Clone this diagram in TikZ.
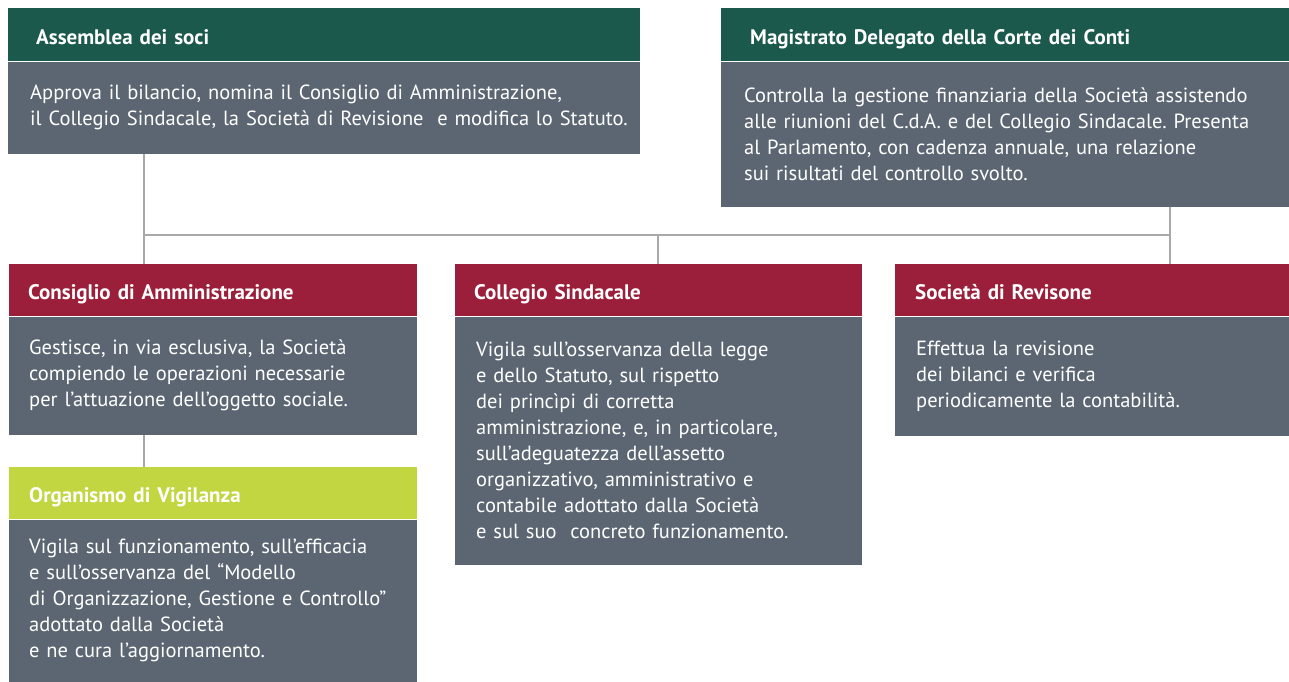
\documentclass[tikz,border=0pt]{standalone}
\usepackage{fontspec}
\setmainfont{PT Sans}
\usepackage{tikz}
\usetikzlibrary{positioning}
\definecolor{darkgreen}{HTML}{1A594C}
\definecolor{wine}{HTML}{9B1F3A}
\definecolor{lime}{HTML}{C1D641}
\definecolor{slate}{HTML}{5B6672}
\definecolor{linegrey}{HTML}{A8A8A8}
\newcommand{\headfont}{\fontsize{21}{24}\selectfont\bfseries}
\newcommand{\bodyfont}{\fontsize{20.5}{26}\selectfont\frenchspacing}

\begin{document}
\begin{tikzpicture}[x=1pt,y=1pt,
  head/.style={fill=#1, text=white, font=\headfont, inner ysep=0pt,
    text height=22pt, text depth=3pt,
    minimum height=53pt, align=left, anchor=north west},
  body/.style={fill=slate, text=white, font=\bodyfont, inner ysep=0pt, align=left},
  link/.style={draw=linegrey, line width=1.5pt}]
  \useasboundingbox (0,0) rectangle (1289,-681);
  % top row
  \node[head=darkgreen, inner xsep=28pt, text width=576pt] (assemblea) at (8,-8) {Assemblea dei soci};
  \node[body, below=0pt of assemblea, inner xsep=22pt, text width=588pt, minimum height=92pt] (assemblea-txt)
    {Approva il bilancio, nomina il Consiglio di Amministrazione,\\
     \mbox{il Collegio Sindacale, la Società di Revisione~ e modifica lo Statuto.}};
  \node[head=darkgreen, inner xsep=29pt, text width=510pt] (magistrato) at (721,-8) {Magistrato Delegato della Corte dei Conti};
  \node[body, below=0pt of magistrato, inner xsep=23pt, text width=522pt, minimum height=145pt] (magistrato-txt)
    {Controlla la gestione finanziaria della Società assistendo\\
     alle riunioni del C.d.A. e del Collegio Sindacale. Presenta\\
     al Parlamento, con cadenza annuale, una relazione\\
     sui risultati del controllo svolto.};
  % middle row
  \node[head=wine, inner xsep=19pt, text width=370pt, minimum height=52pt] (consiglio) at (9,-264) {Consiglio di Amministrazione};
  \node[body, below=0pt of consiglio, inner xsep=20pt, text width=368pt, minimum height=118pt] (consiglio-txt)
    {Gestisce, in via esclusiva, la Società\\
     compiendo le operazioni necessarie\\
     per l’attuazione dell’oggetto sociale.};
  \node[head=wine, inner xsep=19pt, text width=369pt, minimum height=52pt] (collegio) at (455,-264) {Collegio Sindacale};
  \node[body, below=0pt of collegio, inner xsep=21pt, text width=365pt, minimum height=248pt] (collegio-txt)
    {Vigila sull’osservanza della legge\\
     e dello Statuto, sul rispetto\\
     dei princìpi di corretta\\
     amministrazione, e, in particolare,\\
     sull’adeguatezza dell’assetto\\
     organizzativo, amministrativo e\\
     contabile adottato dalla Società\\
     e sul suo~ concreto funzionamento.};
  \node[head=wine, inner xsep=20pt, text width=354pt, minimum height=52pt] (revisione) at (895,-264) {Società di Revisone};
  \node[body, below=0pt of revisione, inner xsep=21pt, text width=352pt, minimum height=119pt] (revisione-txt)
    {Effettua la revisione\\
     dei bilanci e verifica\\
     periodicamente la contabilità.};
  % bottom
  \node[head=lime, inner xsep=20pt, text width=368pt, minimum height=52pt] (organismo) at (9,-467) {Organismo di Vigilanza};
  \node[body, below=0pt of organismo, inner xsep=20pt, text width=368pt, minimum height=162pt] (organismo-txt)
    {Vigila sul funzionamento, sull’efficacia\\
     e sull’osservanza del “Modello\\
     di Organizzazione, Gestione e Controllo”\\
     adottato dalla Società\\
     e ne cura l’aggiornamento.};
  % connectors
  \coordinate (left) at (144,-235);
  \coordinate (mid) at (658,-235);
  \coordinate (right) at (1170,-235);
  \draw[link] (left |- assemblea-txt.south) -- (left |- consiglio.north);
  \draw[link] (left) -- (right);
  \draw[link] (mid) -- (mid |- collegio.north);
  \draw[link] (right |- magistrato-txt.south) -- (right |- revisione.north);
  \draw[link] (left |- consiglio-txt.south) -- (left |- organismo.north);
\end{tikzpicture}
\end{document}
